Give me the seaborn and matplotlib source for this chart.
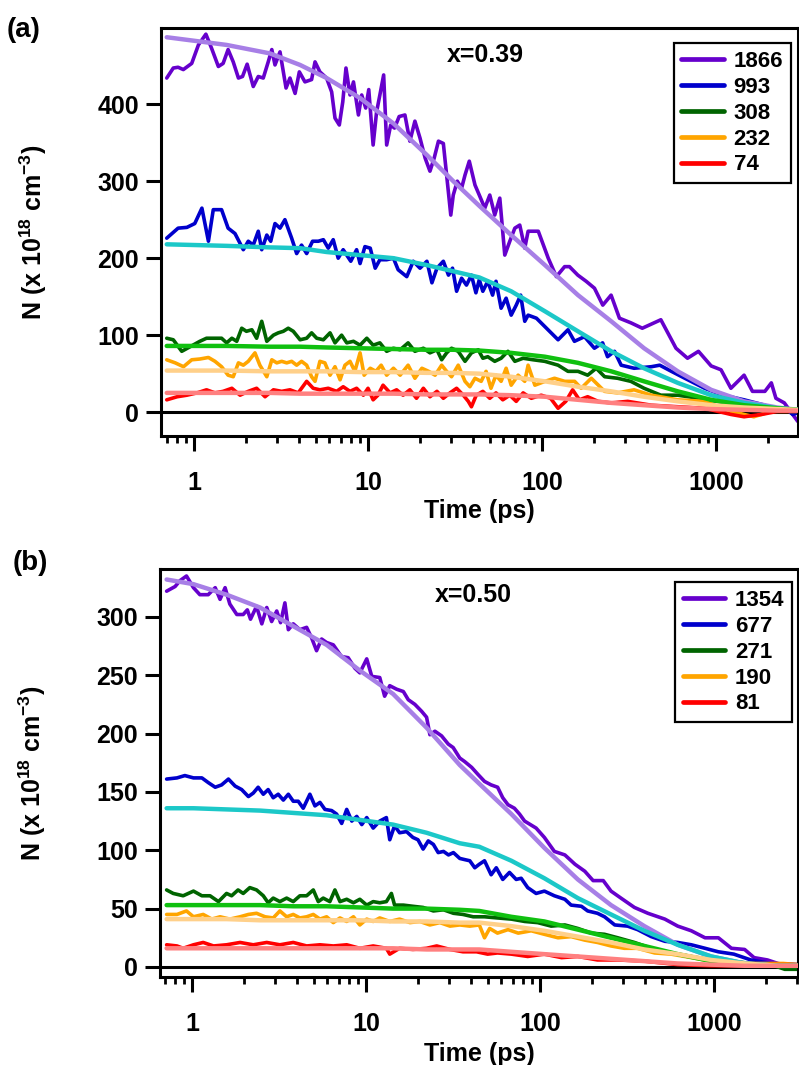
import numpy as np
import matplotlib
matplotlib.use("Agg")
import matplotlib.pyplot as plt
import seaborn as sns
from matplotlib.lines import Line2D
from matplotlib.ticker import LogLocator, NullFormatter, FixedLocator, FixedFormatter

# ---------------- data: panel (a), x=0.39 ----------------
a_labels = ["1866", "993", "308", "232", "74"]

a_t_1866 = [0.697,0.76,0.81,0.868,0.97,1.06,1.17,1.26,1.38,1.47,
            1.57,1.68,1.80,1.90,2.02,2.19,2.34,2.5,2.67,2.80,
            2.92,3.12,3.38,3.56,3.81,4.03,4.34,4.74,4.96,5.29,
            5.78,6.18,6.46,6.84,7.16,7.47,7.88,8.25,8.81,9.2,
            9.7,10.1,10.7,11.2,11.7,12.3,12.8,13.5,14.2,15.1,
            16.3,17.4,18.6,19.9,21.3,22.7,24,25.4,27.1,28.3,
            29.9,30.9,32.6,34.5,36.1,38.2,41.2,43.6,46.9,50.1,
            53.5,57.2,61.1,65.3,69.8,74.5,79.6,83.2,95.2,108.6,
            120.9,134.9,143.8,160.6,179.3,200.2,223.5,249.5,278.7,324.4,
            377,482,589,686,793,938,1069,1218,1450,1620,
            1910,2080,2210,2470,2760,2950]
a_n_1866 = [434,447,448,445,453,477,491,473,449,453,
            471,455,434,436,452,423,436,434,455,471,
            451,468,421,434,414,442,429,432,455,442,
            434,416,382,373,403,447,412,429,386,412,
            395,419,347,390,412,438,347,373,369,384,
            386,352,378,356,330,313,330,352,349,308,
            256,282,300,291,308,326,295,282,265,282,
            256,278,204,222,239,243,213,235,235,200,
            176,189,189,178,170,161,139,152,122,116,
            109,120,83,70,79,60,55,31,48,27,
            27,38,18,12,-3,-12]

a_t_993 = [0.697,0.81,0.91,1.01,1.11,1.21,1.29,1.44,1.57,1.72,
           1.92,2.05,2.19,2.34,2.45,2.62,2.76,2.92,3.12,3.33,
           3.64,3.89,4.15,4.44,4.80,5.18,5.54,5.91,6.31,6.74,
           7.2,7.96,8.6,9.0,9.6,10.3,11.0,11.7,12.8,14.0,
           14.9,16.7,18.2,19.9,21.8,23.3,24.9,27.1,29.0,30.6,
           32.3,34.5,36.8,39.3,41.7,43.6,45.7,48.8,52.0,54.4,
           58.2,62.2,66.5,71.1,75.4,79.6,83.2,92.9,106.1,123.7,
           141,153.6,175.5,200,223,238,261,285,338,425,
           475,554,662,860,1100,1450,1910,2250,2500,2760,
           2950]
a_n_993 = [226,239,240,245,265,222,263,263,239,232,
           211,222,217,235,211,230,222,245,239,250,
           226,206,217,206,222,222,224,213,224,200,
           211,196,211,193,215,213,187,198,198,200,
           185,176,196,187,196,168,187,196,178,187,
           157,174,165,178,155,172,157,170,152,170,
           135,148,126,139,152,118,126,122,109,94,
           107,92,98,83,90,72,79,61,57,59,
           61,53,44,31,22,16,9,1,5,-3,
           -1]

a_t_308 = [0.697,0.76,0.85,0.95,1.08,1.18,1.44,1.54,1.65,1.76,
           1.88,2.0,2.15,2.29,2.45,2.62,2.86,3.05,3.26,3.48,
           3.72,4.07,4.44,4.74,5.07,5.54,6.05,6.46,7.05,7.55,
           8.25,9.0,9.84,10.7,11.7,12.8,14.0,15.3,17.0,18.6,
           20.8,22.7,24.9,26.5,28.3,30.2,33.0,36.1,39.3,43.0,
           45.7,48.8,53.5,58.2,63.7,69.8,77.9,89,103.7,123.7,
           141,161,183,205,229,272,324,386,482,603,
           793,1015,1450,2080,2690,2950]
a_n_308 = [96,94,79,85,92,96,96,90,96,92,
           109,105,107,96,118,92,100,103,105,109,
           105,94,96,103,96,94,103,90,100,90,
           92,87,96,87,90,79,83,81,90,79,
           83,77,81,68,77,83,79,66,77,81,
           70,72,66,70,79,66,70,68,66,61,
           53,53,48,57,46,44,40,31,22,22,
           18,14,9,3,1,1]

a_t_232 = [0.697,0.78,0.87,0.97,1.08,1.21,1.32,1.44,1.57,1.68,
           1.80,1.92,2.05,2.24,2.39,2.62,2.80,2.99,3.19,3.41,
           3.64,3.89,4.15,4.44,4.74,4.96,5.29,5.65,6.05,6.46,
           6.91,7.37,7.88,8.4,9.0,9.5,10.3,11.1,11.9,12.8,
           14.0,15.3,17.0,18.6,20.4,22.3,24.3,26.5,28.3,30.2,
           33.0,36.1,38.5,41.2,44.7,47.7,50.9,54.4,58.2,62.2,
           66.5,72.9,79.6,83.2,91,104,118,135,154,168,
           192,229,272,338,425,603,860,1218,1650,2080,
           2950]
a_n_232 = [68,64,59,68,69,71,66,59,48,46,
           64,61,66,77,61,46,68,64,66,64,
           66,61,66,61,46,40,66,64,48,59,
           42,61,66,53,77,48,57,53,61,48,
           57,48,61,44,57,53,48,61,53,46,
           61,40,33,44,40,53,31,48,40,57,
           35,48,40,61,35,40,44,40,40,31,
           44,27,25,29,22,16,14,1,-6,1,
           1]

a_t_74 = [0.697,0.80,0.91,1.04,1.18,1.32,1.47,1.65,1.84,2.05,
          2.29,2.56,2.86,3.19,3.56,3.97,4.44,4.84,5.29,5.91,
          6.6,7.2,7.88,8.6,9.4,10.0,10.7,11.4,12.2,13.4,
          14.6,15.9,17.4,19.0,20.8,22.7,24.9,27.1,29.6,32.3,
          35.3,37.7,39.3,41.9,45.7,50.1,54.4,59.5,65.3,71.1,
          77.9,86.8,99,112,123.7,137,150,164,183,210,
          249,311,425,603,860,1218,1450,1830,2250,2950]
a_n_74 = [16,20,22,25,29,25,27,31,22,27,
          31,20,29,27,29,25,40,31,29,31,
          27,33,27,31,22,31,16,22,35,25,
          29,22,29,18,31,20,27,18,25,31,
          22,14,7,22,27,18,25,16,22,14,
          25,18,22,18,5,14,29,16,20,14,
          12,14,9,7,5,-3,-6,-3,1,1]

a_fit_t = [0.697,1.54,2.73,4.07,5.78,9.0,14.0,21.8,30.9,43.6,
           66.5,104,161,250,386,603,938,1450,2250,2950]
a_fit_1866 = [487,477,466,451,434,408,375,334,300,268,230,191,152,118,83,53,29,14,6,3]
a_fit_993 = [218,216,214,213,208,204,200,191,183,175,157,131,105,79,57,38,22,12,5,3]
a_fit_308 = [86,86,85,85,84,83,82,81,81,80,77,72,64,53,40,27,16,9,5,3]
a_fit_232 = [54,54,53,53,53,52,52,51,51,50,46,40,33,27,20,14,9,6,4,3]
a_fit_74 = [25,25,25,24,24,24,24,23,23,23,22,20,16,12,9,6,4,3,2,2]

# ---------------- data: panel (b), x=0.50 ----------------
b_labels = ["1354", "677", "271", "190", "81"]

b_t_1354 = [0.715,0.80,0.853,0.93,1.02,1.11,1.24,1.36,1.45,1.55,
            1.65,1.81,1.97,2.08,2.17,2.35,2.52,2.69,2.87,3.07,
            3.23,3.42,3.58,3.82,4.17,4.56,4.87,5.2,5.56,5.94,
            6.49,7.23,7.9,8.63,9.22,10.1,10.8,12.0,12.8,13.7,
            15.0,16.4,17.5,19.1,20.9,22.3,23.3,24.9,27.2,29.7,
            31.7,34.6,36.9,40.5,44,48,52.4,57.1,61.1,65.5,
            71.3,76.3,81.6,95,106,121,139,159,181,202,
            231,256,292,349,417,522,619,741,888,1060,
            1260,1500,1700,2030,2330,2780,3030]
b_n_1354 = [322,326,331,335,325,319,319,325,315,325,
            311,302,302,306,298,309,294,308,296,305,
            295,312,289,294,289,291,282,271,281,278,
            276,266,265,256,252,264,249,248,232,241,
            238,236,229,225,219,214,199,202,198,191,
            188,179,176,171,165,159,156,154,145,139,
            136,131,125,119,111,99,96,88,82,74,
            74,65,59,51,46,41,35,31,25,25,
            16,15,8,6,3,1,1]

b_t_677 = [0.715,0.82,0.91,1.02,1.14,1.24,1.36,1.48,1.62,1.77,
           1.93,2.11,2.25,2.4,2.57,2.74,2.93,3.13,3.35,3.58,
           3.82,4.08,4.36,4.76,5.09,5.44,5.81,6.35,6.78,7.25,
           7.75,8.29,8.85,9.46,10.1,11.0,12.0,13.1,13.7,14.6,
           15.6,17.1,18.6,19.9,21.3,22.8,24.4,26.0,27.9,29.8,
           31.8,34.6,36.9,39.5,42.2,44.8,48,52.4,56.1,61.1,
           66.8,73,78,85,95,106,121,139,151,173,
           188,214,235,269,319,364,436,522,619,741,
           888,1060,1300,1630,2130,3030]
b_n_677 = [161,162,164,162,162,158,154,156,161,155,
           152,146,149,154,148,152,145,148,143,148,
           142,142,136,148,138,141,135,134,131,123,
           135,125,129,122,128,119,125,128,109,121,
           115,116,111,109,101,108,105,98,99,96,
           98,93,92,91,85,88,91,79,85,75,
           81,75,76,68,63,65,61,58,53,52,
           48,46,43,36,35,32,26,22,21,19,
           16,13,11,6,3,2]

b_t_271 = [0.715,0.78,0.89,1.02,1.14,1.27,1.42,1.58,1.69,1.84,
           1.97,2.15,2.35,2.57,2.74,2.93,3.2,3.5,3.82,4.17,
           4.56,4.98,5.32,5.68,6.2,6.63,7.09,7.75,8.47,9.22,
           10.1,11.0,12.0,13.1,14.0,14.6,16.4,18.6,21.3,24.4,
           27.9,31.8,36.1,41.3,48,57,68.5,81.6,97,116,
           139,165,197,235,280,349,436,567,741,963,
           1260,1630,2130,2550,3030]
b_n_271 = [66,63,61,65,61,61,56,63,61,66,
           63,68,66,61,55,59,56,59,56,61,
           61,66,56,59,56,66,56,58,55,58,
           53,56,55,56,63,53,53,52,51,48,
           49,46,45,43,43,42,41,39,38,35,
           36,33,29,28,25,21,16,12,9,6,
           5,3,2,-2,-2]

b_t_190 = [0.715,0.82,0.93,1.02,1.16,1.30,1.45,1.65,1.89,2.11,
           2.35,2.63,2.93,3.2,3.5,3.82,4.17,4.56,4.98,5.44,
           5.94,6.49,7.09,7.75,8.47,9.22,10.1,11.0,12.0,13.7,
           15.6,17.9,20.4,23.3,26.6,30.4,34.6,39.5,44.8,48,
           51.4,57,65.5,75,89,106,127,151,181,214,
           256,305,364,456,567,741,963,1370,1970,2500,
           3030]
b_n_190 = [45,45,48,43,45,41,43,41,43,45,
           46,43,42,48,43,45,42,43,45,41,
           43,38,42,39,43,36,41,39,42,39,
           41,38,39,36,38,35,36,35,36,25,
           33,29,32,29,31,28,25,26,23,21,
           18,16,16,12,11,8,5,3,3,3,
           2]

b_t_81 = [0.715,0.82,0.89,1.02,1.16,1.33,1.58,1.89,2.25,2.69,
          3.2,3.82,4.56,5.44,6.49,7.75,9.22,11.0,13.1,13.7,
          15.6,18.6,22.3,25.5,30.4,36.1,43.2,50,57,68.5,
          85,106,133,165,214,280,398,619,963,1500,
          2130,3030]
b_n_81 = [19,18,16,19,21,18,19,21,19,21,
          19,21,18,19,18,19,16,18,16,11,
          16,15,16,18,15,13,13,11,12,11,
          9,11,8,9,6,6,5,2,1,1,
          2,2]

b_fit_t = [0.715,1.02,1.58,2.46,3.82,5.94,9.22,14.3,22.3,34.6,44.8,
           68.5,106,165,256,398,619,963,1500,2330,3030]
b_fit_1354 = [332,328,319,308,292,276,254,234,205,173,157,131,102,75,53,35,19,9,3,1,1]
b_fit_677 = [136,136,135,134,132,130,126,122,115,106,103,91,76,59,45,31,19,9,3,1,1]
b_fit_271 = [53,53,53,53,52,52,51,50,50,49,48,43,39,32,25,18,11,5,2,1,1]
b_fit_190 = [41,41,41,40,40,40,40,39,39,38,38,35,31,26,21,15,11,6,3,1,1]
b_fit_81 = [16,16,16,16,16,16,16,16,15,15,15,13,11,9,7,5,3,2,1,1,1]

# ---------------- styling ----------------
data_colors = ["#6600CC", "#0000CC", "#006400", "#FFA500", "#FF0000"]
fit_colors = ["#A77FE6", "#1CC8C8", "#10C010", "#FFD08A", "#FF8080"]

sns.set_theme(style="ticks")
plt.rcParams['font.family'] = ['Liberation Sans', 'DejaVu Sans']
plt.rcParams['font.weight'] = 'bold'
plt.rcParams['axes.labelweight'] = 'bold'
plt.rcParams['text.color'] = 'black'
plt.rcParams['axes.labelcolor'] = 'black'
plt.rcParams['xtick.color'] = 'black'
plt.rcParams['ytick.color'] = 'black'
plt.rcParams['mathtext.fontset'] = 'custom'
plt.rcParams['mathtext.rm'] = 'Liberation Sans:bold'
plt.rcParams['mathtext.bf'] = 'Liberation Sans:bold'
plt.rcParams['mathtext.it'] = 'Liberation Sans:bold'
plt.rcParams['mathtext.sf'] = 'Liberation Sans:bold'
plt.rcParams['mathtext.default'] = 'rm'

W, H = 799, 1065
fig = plt.figure(figsize=(W / 100, H / 100), dpi=100)


def px_axes(left, top, right, bottom):
    return fig.add_axes([left / W, 1 - bottom / H, (right - left) / W, (bottom - top) / H])


def draw_panel(ax, series_t, series_n, fit_t, fits, labels, xlim, ylim, yticks,
               note, note_xy, leg_anchor, ylab_x, xlab_y):
    ax.axhline(0, color="black", lw=2.2, zorder=1)
    for t, n, c in zip(series_t, series_n, data_colors):
        sns.lineplot(x=t, y=n, ax=ax, color=c, linewidth=2.6, estimator=None,
                     sort=False, zorder=2)
    for f, c in zip(fits, fit_colors):
        sns.lineplot(x=fit_t, y=f, ax=ax, color=c, linewidth=3.2, estimator=None,
                     sort=False, zorder=3)
    ax.set_xscale("log")
    ax.set_xlim(*xlim)
    ax.set_ylim(*ylim)
    ax.xaxis.set_major_locator(FixedLocator([1, 10, 100, 1000]))
    ax.xaxis.set_major_formatter(FixedFormatter(["1", "10", "100", "1000"]))
    ax.xaxis.set_minor_locator(LogLocator(base=10, subs=np.arange(2, 10)))
    ax.xaxis.set_minor_formatter(NullFormatter())
    ax.set_yticks(yticks)
    ax.set_yticklabels([str(v) for v in yticks])
    for s in ax.spines.values():
        s.set_visible(True)
        s.set_color("black")
        s.set_linewidth(2.2)
    ax.tick_params(axis="both", which="major", length=11, width=2.2, color="black",
                   labelsize=18, labelcolor="black", direction="out")
    ax.tick_params(axis="x", which="major", pad=14)
    ax.tick_params(axis="y", which="major", pad=5)
    ax.tick_params(axis="x", which="minor", length=5, width=2.0, color="black")
    ax.grid(False)
    ax.set_xlabel("Time (ps)", fontsize=18, fontweight="bold", color="black")
    ax.set_ylabel(r"N (x 10$^{18}$ cm$^{-3}$)", fontsize=18, fontweight="bold",
                  color="black")
    ax.yaxis.set_label_coords(ylab_x, 0.5)
    ax.xaxis.set_label_coords(0.5, xlab_y)
    ax.text(note_xy[0], note_xy[1], note, transform=ax.transAxes, fontsize=18,
            fontweight="bold", ha="left", va="center", color="black")
    handles = [Line2D([], [], color=c, lw=3.4) for c in data_colors]
    leg = ax.legend(handles, labels, loc="upper right", bbox_to_anchor=leg_anchor,
                    borderaxespad=0, frameon=True, fancybox=False, edgecolor="black",
                    fontsize=16, handlelength=1.9, handletextpad=0.45,
                    labelspacing=0.22, borderpad=0.35, framealpha=1)
    leg.get_frame().set_linewidth(1.6)
    for txt in leg.get_texts():
        txt.set_fontweight("bold")
        txt.set_color("black")


ax_a = px_axes(161, 28, 798, 436)
draw_panel(ax_a,
           [a_t_1866, a_t_993, a_t_308, a_t_232, a_t_74],
           [a_n_1866, a_n_993, a_n_308, a_n_232, a_n_74],
           a_fit_t, [a_fit_1866, a_fit_993, a_fit_308, a_fit_232, a_fit_74],
           a_labels, (0.646, 2960), (-31, 499), [0, 100, 200, 300, 400],
           "x=0.39", (0.449, 0.934), (0.989, 0.963), -0.176, -0.155)

ax_b = px_axes(160, 569, 798, 977)
draw_panel(ax_b,
           [b_t_1354, b_t_677, b_t_271, b_t_190, b_t_81],
           [b_n_1354, b_n_677, b_n_271, b_n_190, b_n_81],
           b_fit_t, [b_fit_1354, b_fit_677, b_fit_271, b_fit_190, b_fit_81],
           b_labels, (0.655, 3040), (-8.6, 341), [0, 50, 100, 150, 200, 250, 300],
           "x=0.50", (0.431, 0.936), (0.991, 0.968), -0.176, -0.160)

fig.text(7 / W, 1 - 30 / H, "(a)", fontsize=20, fontweight="bold", ha="left",
         va="center", color="black")
fig.text(13 / W, 1 - 563 / H, "(b)", fontsize=20, fontweight="bold", ha="left",
         va="center", color="black")

fig.savefig("out.png", dpi=100)
